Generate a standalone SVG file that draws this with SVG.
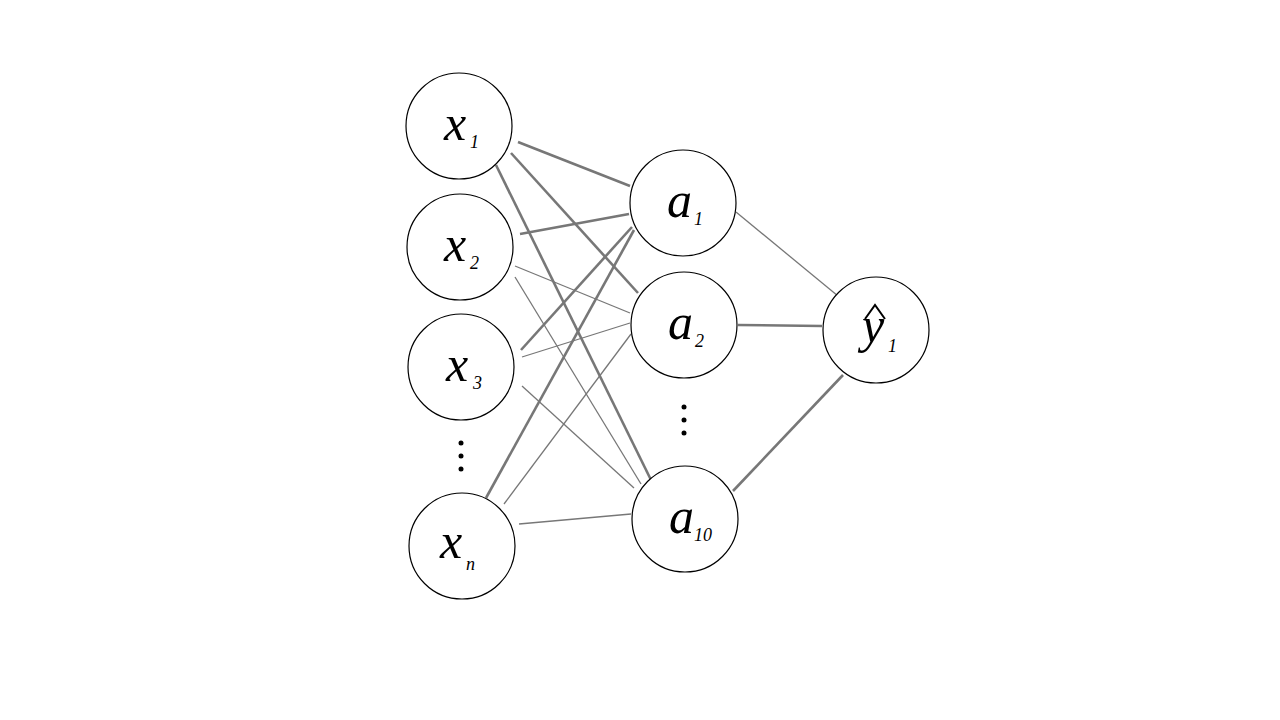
<svg xmlns="http://www.w3.org/2000/svg" width="1280" height="720" viewBox="0 0 1280 720">
<style>
.n{fill:#fff;stroke:#000;stroke-width:1.2}
.t{font-family:"Liberation Serif",serif;font-style:italic;font-size:50px;fill:#000}
.s{font-family:"Liberation Serif",serif;font-style:italic;font-size:18px;fill:#000}
.k{stroke:#777;stroke-width:2.6}
.h{stroke:#777;stroke-width:1.3}
.d{fill:#000}
</style>
<rect width="1280" height="720" fill="#fff"/>
<g id="connectors">
<line class="k" x1="518" y1="142" x2="630" y2="186"/>
<line class="k" x1="511" y1="153" x2="638" y2="293"/>
<line class="k" x1="496" y1="165" x2="651" y2="480"/>
<line class="k" x1="520" y1="234" x2="629" y2="214"/>
<line class="h" x1="515" y1="266" x2="630" y2="313"/>
<line class="h" x1="515" y1="277" x2="641" y2="484"/>
<line class="k" x1="521" y1="350" x2="632" y2="227"/>
<line class="h" x1="522" y1="357" x2="630" y2="323"/>
<line class="h" x1="522" y1="386" x2="634" y2="488"/>
<line class="k" x1="486" y1="498" x2="634" y2="230"/>
<line class="h" x1="504" y1="504" x2="631" y2="334"/>
<line class="h" x1="519" y1="524" x2="631" y2="514"/>
<line class="h" x1="736" y1="212" x2="838" y2="296"/>
<line class="k" x1="738" y1="325" x2="822" y2="326"/>
<line class="k" x1="733" y1="491" x2="843" y2="375"/>
</g>
<g id="x1"><circle class="n" cx="459" cy="126" r="53"/><text class="t" x="444" y="140">x</text><text class="s" x="470" y="148">1</text></g>
<g id="x2"><circle class="n" cx="460" cy="247" r="53"/><text class="t" x="444" y="261">x</text><text class="s" x="470" y="269">2</text></g>
<g id="x3"><circle class="n" cx="461" cy="367" r="53"/><text class="t" x="446" y="381">x</text><text class="s" x="473" y="389">3</text></g>
<g id="xdots"><circle class="d" cx="461" cy="443" r="2.5"/><circle class="d" cx="461" cy="456" r="2.5"/><circle class="d" cx="461" cy="469" r="2.5"/></g>
<g id="xn"><circle class="n" cx="462" cy="546" r="53"/><text class="t" x="440" y="558">x</text><text class="s" x="466" y="570">n</text></g>
<g id="a1"><circle class="n" cx="683" cy="203" r="53"/><text class="t" x="667" y="217">a</text><text class="s" x="694" y="225">1</text></g>
<g id="a2"><circle class="n" cx="684" cy="325" r="53"/><text class="t" x="668" y="339">a</text><text class="s" x="695" y="347">2</text></g>
<g id="adots"><circle class="d" cx="684" cy="407" r="2.5"/><circle class="d" cx="684" cy="420" r="2.5"/><circle class="d" cx="684" cy="433" r="2.5"/></g>
<g id="a10"><circle class="n" cx="685" cy="519" r="53"/><text class="t" x="669" y="533">a</text><text class="s" x="694" y="541">10</text></g>
<g id="y1"><circle class="n" cx="876" cy="330" r="53"/><text class="t" x="862" y="342">y</text><polyline points="865,319 875,305 885,319" fill="none" stroke="#000" stroke-width="2"/><text class="s" x="888" y="352">1</text></g>
</svg>
